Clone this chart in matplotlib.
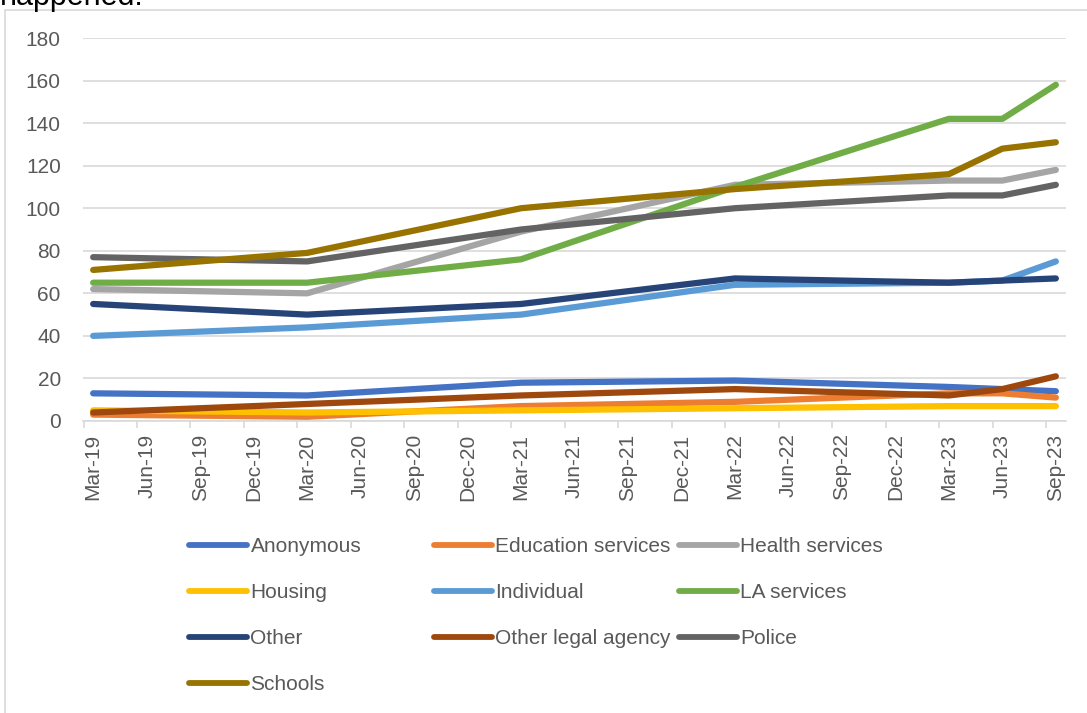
import matplotlib
matplotlib.use("Agg")
import matplotlib.pyplot as plt
from matplotlib.lines import Line2D
from matplotlib.patches import Rectangle

plt.rcParams['font.family'] = ['Liberation Sans', 'DejaVu Sans']

# Quarter tick labels
tick_labels = ["Mar-19", "Jun-19", "Sep-19", "Dec-19", "Mar-20", "Jun-20", "Sep-20",
               "Dec-20", "Mar-21", "Jun-21", "Sep-21", "Dec-21", "Mar-22", "Jun-22",
               "Sep-22", "Dec-22", "Mar-23", "Jun-23", "Sep-23"]
# Dates at which data were recorded
dates = ["Mar-19", "Mar-20", "Mar-21", "Mar-22", "Mar-23", "Jun-23", "Sep-23"]

anonymous = [13, 12, 18, 19, 16, 15, 14]
education = [3, 2, 7, 9, 13, 13, 11]
health = [62, 60, 89, 111, 113, 113, 118]
housing = [5, 4, 5, 6, 7, 7, 7]
individual = [40, 44, 50, 64, 65, 66, 75]
la_services = [65, 65, 76, 110, 142, 142, 158]
other = [55, 50, 55, 67, 65, 66, 67]
other_legal = [4, 8, 12, 15, 12, 15, 21]
police = [77, 75, 90, 100, 106, 106, 111]
schools = [71, 79, 100, 109, 116, 128, 131]

series_names = ["Anonymous", "Education services", "Health services", "Housing",
                "Individual", "LA services", "Other", "Other legal agency",
                "Police", "Schools"]
series_values = [anonymous, education, health, housing, individual, la_services,
                 other, other_legal, police, schools]
colors = ["#4472C4", "#ED7D31", "#A5A5A5", "#FFC000", "#5B9BD5", "#70AD47",
          "#264478", "#9E480E", "#636363", "#997300"]

W, H = 1087, 713
fig = plt.figure(figsize=(W / 100, H / 100), dpi=100)

# outer chart border
fig.patches.append(Rectangle((5 / W, -0.1), 1.2, 1 - 10 / H + 0.1,
                             transform=fig.transFigure, fill=False,
                             edgecolor="#D9D9D9", linewidth=1.2))
fig.text(0.0, 1 - 5 / H, "happened.", fontsize=22, color="black",
         va="baseline", ha="left")

ax = fig.add_axes([83 / W, 1 - 421 / H, (1066 - 83) / W, (421 - 38) / H])

xpos = [tick_labels.index(d) for d in dates]
for name, vals, c in zip(series_names, series_values, colors):
    ax.plot(xpos, vals, color=c, linewidth=4.5, solid_capstyle="round",
            solid_joinstyle="round", label=name)

ax.set_ylim(0, 180)
ax.set_yticks(range(0, 181, 20))
ax.set_xlim(-0.19, 18.19)
ax.set_xticks(range(len(tick_labels)))
ax.set_xticklabels(tick_labels, rotation=90)
ax.set_xticks([i - 0.18 for i in range(len(tick_labels))], minor=True)
ax.tick_params(axis="x", which="major", length=0, pad=9, labelsize=15,
               labelcolor="#595959")
ax.tick_params(axis="x", which="minor", length=5, width=1.2, color="#D9D9D9")
ax.tick_params(axis="y", length=0, pad=16, labelsize=15, labelcolor="#595959")
ax.grid(axis="y", color="#D9D9D9", linewidth=1.2)
ax.set_axisbelow(True)
for s in ["left", "right", "top"]:
    ax.spines[s].set_visible(False)
ax.spines["bottom"].set_color("#D9D9D9")
ax.spines["bottom"].set_linewidth(1.2)

# legend: three columns placed at fixed x positions
col_groups = [[0, 3, 6, 9], [1, 4, 7], [2, 5, 8]]
col_x = [189, 434, 679]
for xg, grp in zip(col_x, col_groups):
    hs = [Line2D([0], [0], color=colors[i], linewidth=4.2, solid_capstyle="round")
          for i in grp]
    fig.legend(hs, [series_names[i] for i in grp], loc="upper left",
               bbox_to_anchor=(xg / W, 1 - 537 / H), frameon=False,
               fontsize=15, labelcolor="#595959", handlelength=2.8,
               handletextpad=0.15, labelspacing=1.3, borderpad=0,
               borderaxespad=0)

fig.savefig("out.png", dpi=100)
